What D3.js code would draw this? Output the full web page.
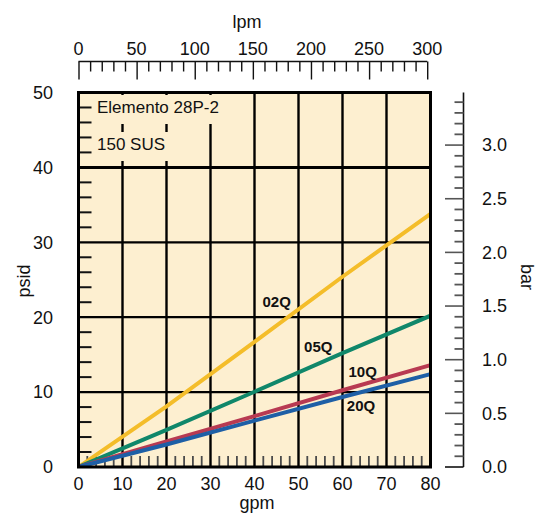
<!DOCTYPE html>
<html>
<head>
<meta charset="utf-8">
<script src="https://cdn.jsdelivr.net/npm/d3@7"></script>
<style>
html,body{margin:0;padding:0;background:#fff;}
svg{display:block;font-family:"Liberation Sans",Arial,Helvetica,sans-serif;}
</style>
</head>
<body>
<svg id="chart" width="541" height="516"></svg>
<script>
// ---- data ----
const gpmPoints = [0, 20, 40, 60, 80];
const series02Q = [0, 8.1, 16.7, 25.4, 33.8];
const series05Q = [0, 4.95, 10.05, 15.2, 20.2];
const series10Q = [0, 3.4, 6.8, 10.25, 13.6];
const series20Q = [0, 3.0, 6.2, 9.35, 12.4];
const seriesNames = ["02Q", "05Q", "10Q", "20Q"];
const seriesColors = ["#F4BD2A", "#10876A", "#B83A52", "#1E5FA6"];
const psiTicks = [0, 10, 20, 30, 40, 50];
const gpmTicks = [0, 10, 20, 30, 40, 50, 60, 70, 80];
const lpmTicks = [0, 50, 100, 150, 200, 250, 300];
const barTicks = [0, 0.5, 1.0, 1.5, 2.0, 2.5, 3.0];
const noteLines = ["Elemento 28P-2", "150 SUS"];

(function () {
const svg = d3.select("#chart");
const pL = 78.5, pR = 430.5, pT = 92.5, pB = 467;
const x = d3.scaleLinear().domain([0, 80]).range([pL, pR]);
const y = d3.scaleLinear().domain([0, 50]).range([pB, pT]);
const xl = d3.scaleLinear().domain([0, 80 * 3.7854]).range([pL, pR]);
const yb = d3.scaleLinear().domain([0, 3.49]).range([pB, pT]);

// background
svg.append("rect").attr("x", pL).attr("y", pT)
  .attr("width", pR - pL).attr("height", pB - pT).attr("fill", "#FDEFD0");

// grid
const g = svg.append("g");
gpmTicks.filter(d => d > 0 && d < 80).forEach(d => {
  g.append("line").attr("x1", x(d)).attr("x2", x(d)).attr("y1", pT).attr("y2", pB)
    .attr("stroke", "#000").attr("stroke-width", 2.4);
});
psiTicks.filter(d => d > 0 && d < 50).forEach(d => {
  g.append("line").attr("x1", pL).attr("x2", pR).attr("y1", y(d)).attr("y2", y(d))
    .attr("stroke", "#000").attr("stroke-width", d === 40 ? 3 : 2.2);
});
// minor inner ticks
d3.range(2, 50, 2).filter(d => d % 10 !== 0).forEach(d => {
  g.append("line").attr("x1", pL).attr("x2", pL + 13).attr("y1", y(d)).attr("y2", y(d))
    .attr("stroke", "#111").attr("stroke-width", 2);
});
d3.range(2, 80, 2).filter(d => d % 10 !== 0).forEach(d => {
  g.append("line").attr("x1", x(d)).attr("x2", x(d)).attr("y1", pB).attr("y2", pB - 11)
    .attr("stroke", "#4a4a4a").attr("stroke-width", 1.8);
});

// note text with background
const noteY = [113, 150];
const noteBox = [[95, 124], [132, 161]];
noteLines.forEach((t, i) => {
  const txt = svg.append("text").attr("x", 97).attr("y", noteY[i])
    .attr("font-size", 17).attr("fill", "#111").text(t);
  const w = txt.node().getComputedTextLength();
  svg.insert("rect", () => txt.node()).attr("x", 94).attr("y", noteBox[i][0])
    .attr("width", w + 9).attr("height", noteBox[i][1] - noteBox[i][0]).attr("fill", "#FDEFD0");
});

// series
const allSeries = [series02Q, series05Q, series10Q, series20Q];
svg.append("clipPath").attr("id", "clip").append("rect")
  .attr("x", pL).attr("y", pT).attr("width", pR - pL).attr("height", pB - pT);
const line = d3.line().x((d, i) => x(gpmPoints[i])).y(d => y(d));
allSeries.forEach((s, i) => {
  svg.append("path").datum(s).attr("d", line).attr("fill", "none")
    .attr("stroke", seriesColors[i]).attr("stroke-width", 4).attr("clip-path", "url(#clip)");
});
// series labels
const labelPos = [[276.7, 307], [318.3, 352], [362.7, 376.5], [361, 411]];
seriesNames.forEach((n, i) => {
  svg.append("text").attr("x", labelPos[i][0]).attr("y", labelPos[i][1])
    .attr("text-anchor", "middle").attr("font-size", 15).attr("font-weight", "bold")
    .attr("fill", "#111").text(n);
});

// frame
svg.append("rect").attr("x", pL).attr("y", pT)
  .attr("width", pR - pL).attr("height", pB - pT)
  .attr("fill", "none").attr("stroke", "#000").attr("stroke-width", 3);

// left axis labels
psiTicks.forEach(d => {
  svg.append("text").attr("x", 53).attr("y", y(d)).attr("dy", "0.35em")
    .attr("text-anchor", "end").attr("font-size", 18).attr("fill", "#111").text(d);
});
svg.append("text").attr("transform", "translate(29.5,281) rotate(-90)")
  .attr("text-anchor", "middle").attr("font-size", 18).attr("fill", "#111").text("psid");

// bottom labels
gpmTicks.forEach(d => {
  svg.append("text").attr("x", x(d)).attr("y", 489.5)
    .attr("text-anchor", "middle").attr("font-size", 18).attr("fill", "#111").text(d);
});
svg.append("text").attr("x", 257).attr("y", 509).attr("text-anchor", "middle")
  .attr("font-size", 18).attr("fill", "#111").text("gpm");

// top lpm axis
const topAxis = d3.axisBottom(xl).tickValues(d3.range(0, 301, 10)).tickSize(10).tickFormat("");
const ta = svg.append("g").attr("transform", "translate(0,61.5)").call(topAxis);
ta.select(".domain").attr("stroke", "#111").attr("stroke-width", 1.4).attr("d", `M${xl(0)},0H${xl(300)}`);
ta.selectAll(".tick line").attr("stroke", "#111").attr("stroke-width", 1.4)
  .attr("y2", d => d % 50 === 0 ? 18 : 10);
lpmTicks.forEach(d => {
  svg.append("text").attr("x", xl(d)).attr("y", 55).attr("text-anchor", "middle")
    .attr("font-size", 18).attr("fill", "#111").text(d);
});
svg.append("text").attr("x", 247).attr("y", 27.5).attr("text-anchor", "middle")
  .attr("font-size", 18).attr("fill", "#111").text("lpm");

// right bar axis
const ax = 463.5;
svg.append("line").attr("x1", ax).attr("x2", ax).attr("y1", pT).attr("y2", pB)
  .attr("stroke", "#111").attr("stroke-width", 1.6);
d3.range(0, 35).forEach(k => {
  const v = k / 10;
  const major = k % 5 === 0;
  svg.append("line").attr("x1", ax).attr("x2", ax - (major ? 18.5 : 9))
    .attr("y1", yb(v)).attr("y2", yb(v))
    .attr("stroke", k === 0 ? "#111" : "#555").attr("stroke-width", major ? 1.6 : 1.8);
});
barTicks.forEach(d => {
  svg.append("text").attr("x", 482).attr("y", yb(d)).attr("dy", "0.35em")
    .attr("font-size", 18).attr("fill", "#111").text(d.toFixed(1));
});
svg.append("text").attr("transform", "translate(521,277) rotate(90)")
  .attr("text-anchor", "middle").attr("font-size", 18).attr("fill", "#111").text("bar");
})();
</script>
</body>
</html>
